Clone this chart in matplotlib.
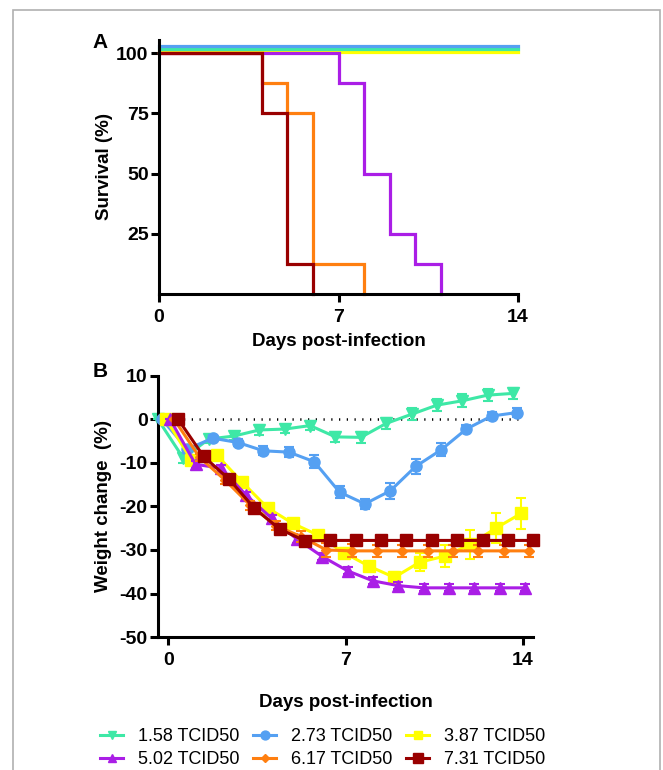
import numpy as np
import matplotlib
matplotlib.use('Agg')
import matplotlib.pyplot as plt
import matplotlib.transforms as mtransforms
from matplotlib.patches import Rectangle

plt.rcParams['font.family'] = ['Liberation Sans', 'DejaVu Sans']
plt.rcParams['axes.unicode_minus'] = False

# ---- data -----------------------------------------------------------
doses = ['1.58 TCID50', '2.73 TCID50', '3.87 TCID50',
         '5.02 TCID50', '6.17 TCID50', '7.31 TCID50']
colors = ['#3EE8A6', '#55A0F2', '#FFFF00', '#AA1EE6', '#FF7F10', '#990000']
markers = ['v', 'o', 's', '^', 'D', 's']
msizes = [8, 8, 8, 8, 5.5, 8.5]

# survival (Kaplan-Meier steps): times and survival values
surv_t = {
    '1.58 TCID50': [0, 14],
    '2.73 TCID50': [0, 14],
    '3.87 TCID50': [0, 14],
    '5.02 TCID50': [0, 7, 8, 9, 10, 11],
    '6.17 TCID50': [0, 4, 5, 6, 8],
    '7.31 TCID50': [0, 4, 5, 6],
}
surv_v = {
    '1.58 TCID50': [100, 100],
    '2.73 TCID50': [100, 100],
    '3.87 TCID50': [100, 100],
    '5.02 TCID50': [100, 87.5, 50, 25, 12.5, 0],
    '6.17 TCID50': [100, 87.5, 75, 12.5, 0],
    '7.31 TCID50': [100, 75, 12.5, 0],
}

days = np.arange(0, 15)
w_158 = [0, -8.9, -4.5, -3.8, -2.4, -2.2, -1.4, -4.0, -4.1, -0.9, 1.2, 3.3, 4.3, 5.6, 6.0]
e_158 = [0, 1.0, 1.0, 1.0, 1.2, 1.0, 1.0, 1.2, 1.3, 1.2, 1.4, 1.4, 1.5, 1.4, 1.3]
w_273 = [0, -6.8, -4.3, -5.3, -7.2, -7.5, -9.7, -16.7, -19.4, -16.4, -10.8, -7.0, -2.2, 0.8, 1.6]
e_273 = [0, 1.0, 0.8, 0.9, 1.0, 1.2, 1.5, 1.3, 1.2, 1.8, 1.8, 1.5, 1.0, 1.0, 1.0]
w_387 = [0, -9.3, -8.2, -14.4, -20.3, -23.9, -26.6, -30.6, -33.7, -36.3, -32.8, -31.4, -28.7, -25.0, -21.6]
e_387 = [0, 0.8, 0.8, 0.8, 0.8, 0.8, 0.8, 1.0, 1.0, 1.2, 2.0, 2.5, 3.3, 3.5, 3.5]
w_502 = [0, -10.3, -11.2, -17.4, -22.7, -27.5, -31.5, -34.8, -37.1, -38.2, -38.7, -38.7, -38.7, -38.7, -38.7]
e_502 = [0, 0.8, 0.8, 0.8, 0.8, 0.8, 0.8, 0.8, 0.8, 0.8, 0.8, 0.8, 0.8, 0.8, 0.8]
w_617 = [0, -8.7, -13.9, -19.7, -24.4, -26.9, -30.0, -30.2, -30.2, -30.2, -30.2, -30.2, -30.2, -30.2, -30.2]
e_617 = [0, 0.8, 1.0, 1.0, 1.0, 1.2, 1.5, 1.5, 1.4, 1.4, 1.4, 1.4, 1.4, 1.4, 1.4]
w_731 = [0, -8.5, -13.7, -20.4, -25.2, -27.9, -27.8, -27.8, -27.8, -27.8, -27.8, -27.8, -27.8, -27.8, -27.8]
e_731 = [0, 0.3, 0.3, 0.3, 0.3, 0.3, 0.3, 0.3, 0.3, 0.3, 0.3, 0.3, 0.3, 0.3, 0.3]

weights = [w_158, w_273, w_387, w_502, w_617, w_731]
errors = [e_158, e_273, e_387, e_502, e_617, e_731]
dodge = [-0.4, -0.24, -0.08, 0.08, 0.24, 0.4]

# ---- figure ---------------------------------------------------------
W, H = 663, 770
fig = plt.figure(figsize=(W / 100, H / 100), dpi=100)

def px_axes(l, t, r, b):
    return fig.add_axes([l / W, 1 - b / H, (r - l) / W, (b - t) / H])

lw_ax = 2.2
lab_fs = 13.5

def style_axes(ax):
    ax.spines['top'].set_visible(False)
    ax.spines['right'].set_visible(False)
    for s in ['left', 'bottom']:
        ax.spines[s].set_linewidth(lw_ax)
    ax.tick_params(width=lw_ax, length=5.5, labelsize=14, direction='out')
    ax.tick_params(axis='x', pad=5.5)
    ax.tick_params(axis='y', pad=2)
    for lab in ax.get_xticklabels() + ax.get_yticklabels():
        lab.set_fontweight('bold')

# ---- panel A --------------------------------------------------------
ax1 = px_axes(159, 40, 518, 294)
# offsets (points) so the flat 100% lines show side by side, like the original
yoffs = {'1.58 TCID50': 2.7, '2.73 TCID50': 5.0, '3.87 TCID50': 0.9,
         '5.02 TCID50': 0, '6.17 TCID50': 0, '7.31 TCID50': 0}
order = ['3.87 TCID50', '1.58 TCID50', '2.73 TCID50',
         '6.17 TCID50', '5.02 TCID50', '7.31 TCID50']
for d in order:
    c = colors[doses.index(d)]
    tr = ax1.transData + mtransforms.ScaledTranslation(0, yoffs[d] / 72, fig.dpi_scale_trans)
    ax1.step(surv_t[d], surv_v[d], where='post', color=c, lw=2.3, transform=tr,
             solid_joinstyle='miter', clip_on=False)

ax1.set_xlim(0, 14)
ax1.set_ylim(0, 105.4)
ax1.set_xticks([0, 7, 14])
ax1.set_yticks([25, 50, 75, 100])
style_axes(ax1)
ax1.set_xlabel('Days post-infection', fontsize=lab_fs, fontweight='bold')
ax1.set_ylabel('Survival (%)', fontsize=lab_fs, fontweight='bold')
ax1.xaxis.set_label_coords(0.5, -0.152)
ax1.yaxis.set_label_coords(-0.128, 0.5)

# ---- panel B --------------------------------------------------------
ax2 = px_axes(158, 376, 533, 637)
ax2.plot([0, 14], [0, 0], color='black', lw=1.8, ls=(0, (0.5, 2.6)), zorder=1)
for i in range(6):
    x = days + dodge[i]
    ax2.errorbar(x, weights[i], yerr=errors[i], color=colors[i], lw=2.2,
                 marker=markers[i], ms=msizes[i], mec=colors[i], mfc=colors[i],
                 elinewidth=1.5, capsize=3.6, capthick=1.5, label=doses[i],
                 zorder=2 + i, clip_on=False)

ax2.set_xlim(-0.4, 14.39)
ax2.set_ylim(-50, 10)
ax2.set_xticks([0, 7, 14])
ax2.set_yticks(np.arange(-50, 11, 10))
style_axes(ax2)
ax2.set_xlabel('Days post-infection', fontsize=lab_fs, fontweight='bold')
ax2.set_ylabel('Weight change  (%)', fontsize=lab_fs, fontweight='bold')
ax2.xaxis.set_label_coords(0.5, -0.218)
ax2.yaxis.set_label_coords(-0.123, 0.5)

# panel letters
fig.text(100 / W, 1 - 42 / H, 'A', fontsize=15, fontweight='bold', ha='center', va='center')
fig.text(100 / W, 1 - 372 / H, 'B', fontsize=15, fontweight='bold', ha='center', va='center')

# legend (column-major fill => reorder)
leg_order = [0, 3, 1, 4, 2, 5]
leg_handles = []
for i in leg_order:
    ln, = ax2.plot([], [], color=colors[i], lw=2.2, marker=markers[i],
                   ms=msizes[i], mec=colors[i], mfc=colors[i])
    leg_handles.append(ln)
fig.legend(leg_handles, [doses[i] for i in leg_order], ncol=3, frameon=False,
           fontsize=13, loc='upper left', bbox_to_anchor=(100 / W, 1 - 728 / H),
           borderaxespad=0, borderpad=0, handlelength=1.3, handletextpad=0.8,
           columnspacing=0.75, labelspacing=0.36, markerscale=0.8)

# thin grey frame around the figure, open at the bottom
fig.add_artist(Rectangle((13 / W, -0.05), (660 - 13) / W, 1.05 - 10 / H,
                         transform=fig.transFigure, fill=False, ec='#b0b0b0', lw=1.2))

fig.savefig('out.png', dpi=100)
